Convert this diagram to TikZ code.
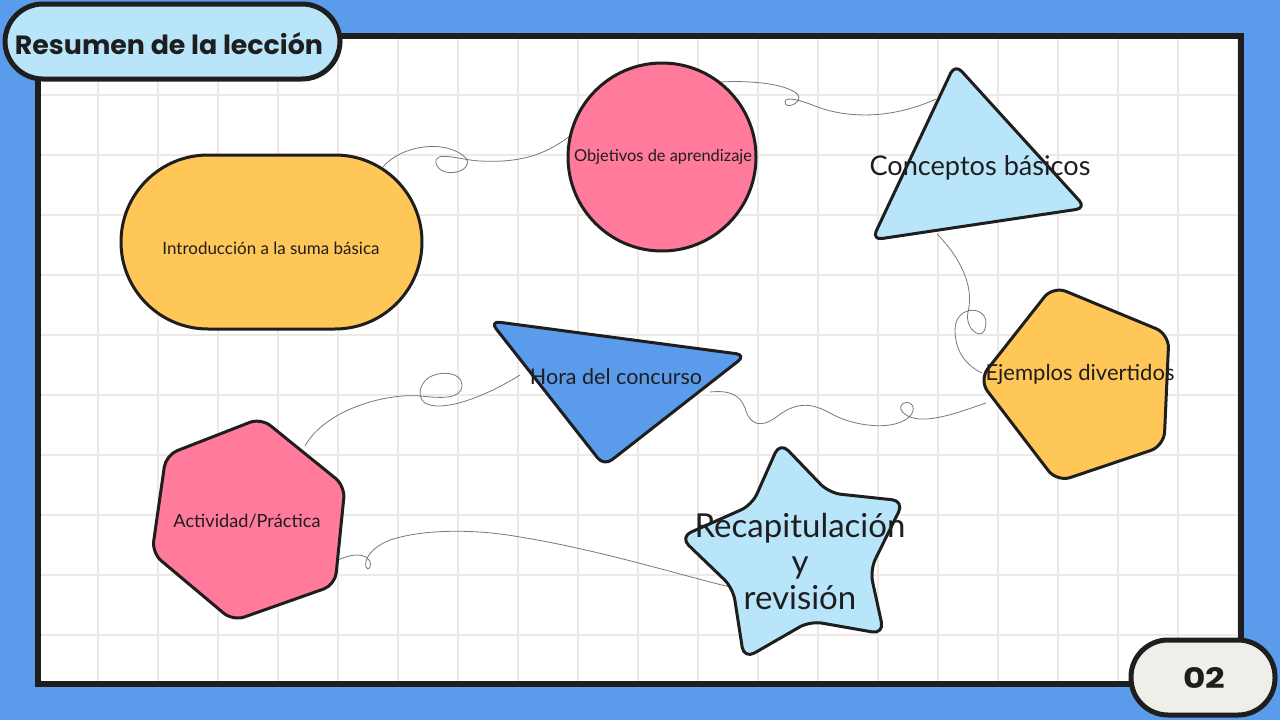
\documentclass[tikz,border=0pt]{standalone}
\usepackage{fontspec}
\setmainfont{Lato}
\newfontfamily\titlefont{Poppins}
\definecolor{bgblue}{RGB}{91,155,235}
\definecolor{lightblue}{RGB}{185,229,251}
\definecolor{orangey}{RGB}{255,198,88}
\definecolor{pinky}{RGB}{255,122,155}
\definecolor{ink}{RGB}{30,30,30}
\definecolor{gridc}{RGB}{237,234,230}
\definecolor{pillgray}{RGB}{239,238,232}
\definecolor{linkgray}{RGB}{120,120,120}
\newcommand{\fitto}[2]{\resizebox{#1}{!}{#2}}
\begin{document}
\begin{tikzpicture}[x=1pt,y=-1pt,
  shp/.style={draw=ink, line width=3pt, rounded corners=10pt, line join=round},
  lbl/.style={text=ink, inner sep=0pt, align=center},
  conn/.style={draw=linkgray, line width=0.8pt}]
\useasboundingbox (0,0) rectangle (1280,720);
\fill[bgblue] (0,0) rectangle (1280,720);
\fill[white] (38,36) rectangle (1241,684);
\begin{scope}
\clip (38,36) rectangle (1241,684);
\foreach \x in {98,158,...,1238} \draw[gridc, line width=2.5pt] (\x,36) -- (\x,684);
\foreach \y in {95,155,...,635} \draw[gridc, line width=2.5pt] (38,\y) -- (1241,\y);
\end{scope}
\draw[ink, line width=6pt] (38,36) rectangle (1241,684);

% connector end points
\coordinate (a0) at (383,167); \coordinate (a1) at (570,136);
\coordinate (b0) at (720,82);  \coordinate (b1) at (936,99);
\coordinate (c0) at (937,234); \coordinate (c1) at (982,373);
\coordinate (d0) at (305,446); \coordinate (d1) at (520,375);
\coordinate (e0) at (710,392); \coordinate (e1) at (986,403);
\coordinate (f0) at (332,563); \coordinate (f1) at (730,587);

\draw[conn] (a0) .. controls (400,146) and (445,138) .. (466,158)
  .. controls (475,172) and (440,180) .. (436,163)
  .. controls (434,150) and (460,160) .. (480,161)
  .. controls (520,163) and (545,155) .. (a1);
\draw[conn] (b0) .. controls (755,80) and (790,85) .. (798,95)
  .. controls (803,103) and (785,110) .. (785,102)
  .. controls (785,96) and (800,100) .. (815,106)
  .. controls (845,118) and (890,120) .. (b1);
\draw[conn] (c0) .. controls (958,255) and (975,285) .. (968,312)
  .. controls (964,330) and (985,345) .. (986,323)
  .. controls (986,305) and (955,305) .. (955,330)
  .. controls (955,350) and (965,365) .. (c1);
\draw[conn] (d0) .. controls (325,410) and (385,393) .. (420,396)
  .. controls (440,398) and (462,400) .. (462,385)
  .. controls (462,372) and (440,370) .. (428,378)
  .. controls (418,386) and (418,398) .. (425,403)
  .. controls (440,412) and (480,400) .. (d1);
\draw[conn] (e0) .. controls (730,390) and (740,395) .. (745,408)
  .. controls (750,425) and (760,428) .. (775,418)
  .. controls (795,402) and (810,402) .. (830,413)
  .. controls (850,425) and (890,432) .. (908,418)
  .. controls (918,410) and (912,400) .. (904,403)
  .. controls (896,407) and (903,418) .. (920,419)
  .. controls (940,420) and (965,410) .. (e1);
\draw[conn] (f0) .. controls (342,557) and (362,550) .. (369,560)
  .. controls (373,566) and (368,572) .. (366,567)
  .. controls (364,560) and (370,548) .. (390,540)
  .. controls (420,530) and (470,528) .. (520,537)
  .. controls (600,550) and (680,575) .. (f1);

% shapes
\draw[shp, fill=orangey, rounded corners=87pt] (121,155) rectangle (422,329);
\node[lbl] (intro) at (271,248) {\fitto{217pt}{Introducción a la suma básica}};

\draw[shp, fill=pinky] (662,157) circle[radius=94];
\node[lbl] (obj) at (663,157) {\fitto{178pt}{Objetivos de aprendizaje}};

\draw[shp, fill=lightblue] (955,64) -- (1086,208) -- (872,240) -- cycle;
\node[lbl] (conc) at (980,168) {\fitto{221pt}{Conceptos básicos}};

\draw[shp, fill=orangey, rounded corners=14pt] (1053,286) -- (1169,334) -- (1164,446) -- (1057,482) -- (979,380) -- cycle;
\node[lbl] (ejem) at (1080,374) {\fitto{189pt}{Ejemplos divertidos}};

\draw[shp, fill=bgblue] (490,321) -- (746,355) -- (604,466) -- cycle;
\node[lbl] (hora) at (616,377) {\fitto{172pt}{Hora del concurso}};

\draw[shp, fill=pinky, rounded corners=12pt] (261,418) -- (345,486) -- (335,585) -- (233,621) -- (152,553) -- (166,455) -- cycle;
\node[lbl] (act) at (247,521) {\fitto{147pt}{Actividad/Práctica}};

\draw[shp, fill=lightblue, rounded corners=12pt] (780,442) -- (829,493) -- (904,501) -- (870,570) -- (884,634) -- (810,621) -- (744,659) -- (733,588) -- (680,537) -- (752,505) -- cycle;
\node[lbl, font=\fontsize{33}{36}\selectfont] (recap) at (800,561) {Recapitulación\\y\\revisión};

% title pill and page number
\draw[ink, line width=5pt, fill=lightblue, rounded corners=38pt] (5,4) rectangle (340,79);
\node[lbl, anchor=base, font=\titlefont\bfseries] (title) at (169,54) {\resizebox{308pt}{22pt}{Resumen de la lección}};
\draw[ink, line width=5pt, fill=pillgray, rounded corners=37pt] (1131,640) rectangle (1275,715);
\node[lbl, anchor=base, font=\titlefont\bfseries] (num) at (1204,688) {\resizebox{42pt}{21pt}{02}};
\end{tikzpicture}
\end{document}
